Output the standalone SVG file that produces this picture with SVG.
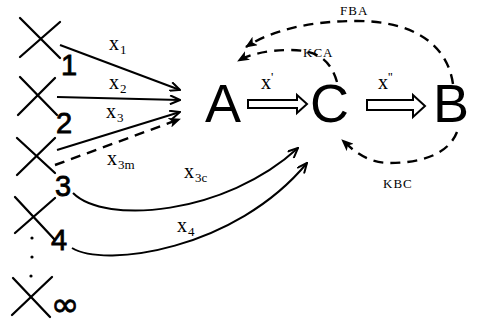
<svg xmlns="http://www.w3.org/2000/svg" width="477" height="324" viewBox="0 0 477 324">
<style>
.cross{stroke:#000;stroke-width:2.3;stroke-linecap:round;fill:none}
.num{font-family:"Liberation Sans",Arial,sans-serif;font-size:29px;fill:#000;stroke:#000;stroke-width:0.8}
.big{font-family:"Liberation Sans",Arial,sans-serif;font-size:54px;fill:#000}
.lbl{font-family:"Liberation Serif","Times New Roman",serif;font-size:20px;fill:#000}
.sub{font-size:13px}
.cap{font-family:"Liberation Serif","Times New Roman",serif;font-size:13px;fill:#000;letter-spacing:1px}
.ln{stroke:#000;stroke-width:2;fill:none}
.dash{stroke:#000;stroke-width:2.4;fill:none;stroke-dasharray:10 7}
.hollow{stroke:#000;stroke-width:2;fill:#fff;stroke-linejoin:miter}
</style>
<defs>
<marker id="ah" viewBox="0 0 12 10" refX="11" refY="5" markerWidth="12" markerHeight="10" markerUnits="userSpaceOnUse" orient="auto">
<path d="M1,0.5 L11,5 L1,9.5" fill="none" stroke="#000" stroke-width="2"/>
</marker>
<marker id="ahf" viewBox="0 0 12 10" refX="11" refY="5" markerWidth="12" markerHeight="10" markerUnits="userSpaceOnUse" orient="auto">
<path d="M0,0 L12,5 L0,10 L3,5 Z" fill="#000"/>
</marker>
</defs>
<g id="n1"><path class="cross" d="M20,18 L60,58 M60,22 L20,57"/><text class="num" x="61" y="75">1</text></g>
<g id="n2"><path class="cross" d="M20,77 L57,115 M55,78 L18,115"/><text class="num" x="56" y="133">2</text></g>
<g id="n3"><path class="cross" d="M17,138 L55,173 M55,138 L17,175"/><text class="num" x="55" y="196">3</text></g>
<g id="n4"><path class="cross" d="M15,197 L55,240 M55,198 L15,233"/><text class="num" x="51" y="250">4</text></g>
<g id="dots"><circle cx="32" cy="238" r="1.6"/><circle cx="32" cy="257" r="1.6"/><circle cx="31" cy="276" r="1.6"/></g>
<g id="ninf"><path class="cross" d="M13,278 L50,317 M52,277 L12,315"/><text x="51" y="316" font-family="DejaVu Sans,sans-serif" font-size="34" fill="#000" stroke="#000" stroke-width="0.8">∞</text></g>
<g id="A"><text class="big" x="205" y="122">A</text></g>
<g id="C"><text class="big" x="310" y="122">C</text></g>
<g id="B"><text class="big" x="433" y="122">B</text></g>
<g id="connectors">
<path class="ln" d="M60,45 L180,90" marker-end="url(#ah)"/>
<path class="ln" d="M57,97 L180,100" marker-end="url(#ah)"/>
<path class="ln" d="M57,150 L180,112" marker-end="url(#ah)"/>
<path class="dash" d="M55,165 L180,119" marker-end="url(#ahf)"/>
<path class="ln" d="M73,193 C105,225 225,215 298,148" marker-end="url(#ah)"/>
<path class="ln" d="M72,248 C105,268 235,250 307,163" marker-end="url(#ah)"/>
<path class="hollow" d="M248,100 L297,100 L297,95 L307,104 L297,113 L297,108 L248,108 Z"/>
<path class="hollow" d="M367,100 L413,100 L413,95 L425,106 L413,117 L413,110 L367,110 Z"/>
<path class="dash" d="M453,84 C447,42 410,21 357,21 C310,21 272,30 246,47" marker-end="url(#ahf)"/>
<path class="dash" d="M337,82 C330,58 315,50 290,50 C268,50 250,54 238,61" marker-end="url(#ahf)"/>
<path class="dash" d="M457,132 C448,155 420,163 390,163 C368,163 355,152 342,140" marker-end="url(#ahf)"/>
</g>
<g id="labels">
<text class="lbl" x="109" y="50">x<tspan class="sub" dx="1" dy="4">1</tspan></text>
<text class="lbl" x="109" y="89">x<tspan class="sub" dx="1" dy="4">2</tspan></text>
<text class="lbl" x="106" y="118">x<tspan class="sub" dx="1" dy="4">3</tspan></text>
<text class="lbl" x="107" y="165">x<tspan class="sub" dx="1" dy="4">3m</tspan></text>
<text class="lbl" x="184" y="178">x<tspan class="sub" dx="1" dy="4">3c</tspan></text>
<text class="lbl" x="177" y="232">x<tspan class="sub" dx="1" dy="4">4</tspan></text>
<text class="lbl" x="261" y="89">x<tspan class="sub" dy="-8">'</tspan></text>
<text class="lbl" x="378" y="89">x<tspan class="sub" dy="-8">''</tspan></text>
<text class="cap" x="340" y="15">FBA</text>
<text class="cap" x="303" y="57">KCA</text>
<text class="cap" x="383" y="188">KBC</text>
</g>
</svg>
